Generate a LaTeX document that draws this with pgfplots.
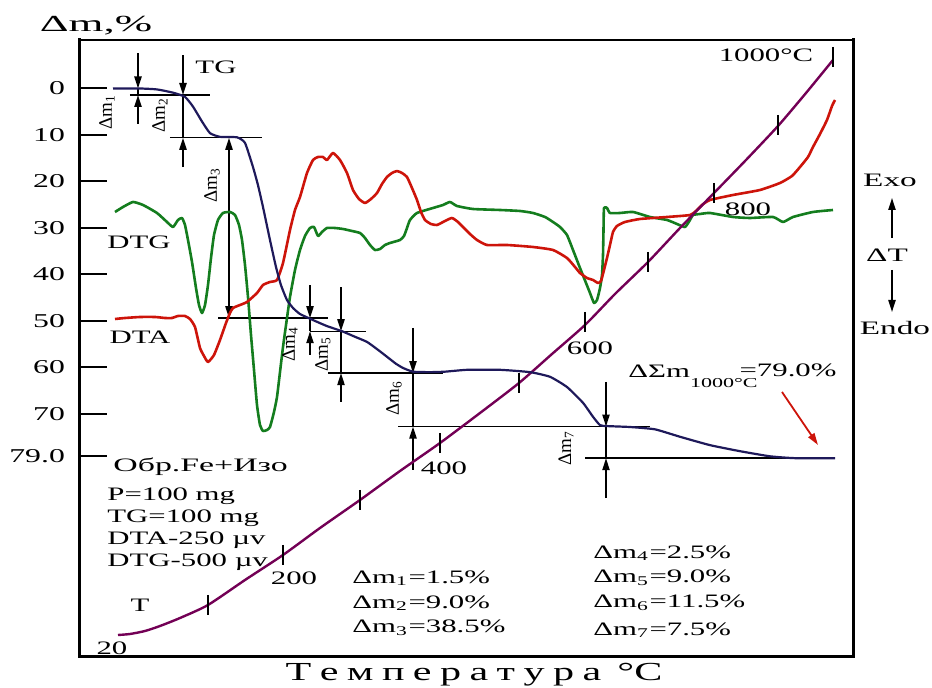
\documentclass[border=0pt]{standalone}
\usepackage{fontspec}
\setmainfont{Liberation Serif}
\usepackage{graphicx}
\usepackage{pgfplots}
\pgfplotsset{compat=1.18}
\usetikzlibrary{arrows.meta}
\definecolor{tgcol}{RGB}{30,25,90}
\definecolor{dtacol}{RGB}{205,20,10}
\definecolor{dtgcol}{RGB}{20,125,30}
\definecolor{tcol}{RGB}{115,0,85}
\newcommand{\sx}[1]{\scalebox{1.62}[1]{#1}}
\newcommand{\ls}{\hspace{2.6pt}}
\tikzset{
  arr/.style={line width=0.8pt, -{Triangle[length=6pt,width=3.6pt]}},
  lev/.style={line width=0.7pt},
}
\begin{document}
\begin{tikzpicture}[font=\fontsize{9.5}{11}\selectfont]
\pgfplotsset{
  base/.style={scale only axis, width=386.5pt, height=308.5pt, xmin=80, xmax=853,
    at={(0,0)}, anchor=south west, clip=false},
}
% ---------- TG axis (percent) ----------
\begin{axis}[base, ymin=-10.43, ymax=122.26, y dir=reverse,
  axis line style={draw=none}, xtick=\empty,
  ytick={0,10,20,30,40,50,60,70,79},
  yticklabels={\sx{0},\sx{10},\sx{20},\sx{30},\sx{40},\sx{50},\sx{60},\sx{70},\sx{79.0}},
  ytick pos=left, tick align=inside, major tick length=13.5pt,
  ytick style={line width=1pt, black},
  yticklabel style={anchor=east, xshift=-4pt, font=\fontsize{9.8}{11}\selectfont},
  /pgf/number format/assume math mode=true]
\draw[line width=1pt] (axis cs:80,-10.43) -- (axis cs:853,-10.43);
\draw[line width=1.5pt, line cap=rect] (axis cs:80,-10.43) -- (axis cs:80,122.26) -- (axis cs:853,122.26) -- (axis cs:853,-10.43);
% level lines
\draw[lev] (axis cs:130,1.4) -- (axis cs:210,1.4);
\draw[lev] (axis cs:170,10.6) -- (axis cs:262,10.6);
\draw[lev] (axis cs:218,49.4) -- (axis cs:328,49.4);
\draw[lev] (axis cs:310,52.2) -- (axis cs:366,52.2);
\draw[lev] (axis cs:328,61.2) -- (axis cs:443,61.2);
\draw[lev] (axis cs:398,72.7) -- (axis cs:650,72.7);
\draw[lev] (axis cs:585,79.5) -- (axis cs:835,79.5);
% arrows
\draw[arr] (axis cs:138,-7.6) -- (axis cs:138,0);
\draw[line width=0.8pt] (axis cs:138,0) -- (axis cs:138,1.4);
\draw[arr] (axis cs:138,7.6) -- (axis cs:138,1.4);
\draw[arr] (axis cs:183,-7.2) -- (axis cs:183,1.4);
\draw[line width=0.8pt] (axis cs:183,1.4) -- (axis cs:183,10.6);
\draw[arr] (axis cs:183,16.9) -- (axis cs:183,10.6);
\draw[line width=0.8pt, {Triangle[length=6pt,width=3.6pt]}-{Triangle[length=6pt,width=3.6pt]}] (axis cs:229,10.6) -- (axis cs:229,49.4);
\draw[arr] (axis cs:310,42.3) -- (axis cs:310,49.4);
\draw[line width=0.8pt] (axis cs:310,49.4) -- (axis cs:310,52.2);
\draw[arr] (axis cs:310,57.3) -- (axis cs:310,52.2);
\draw[arr] (axis cs:341,42.7) -- (axis cs:341,52.2);
\draw[line width=0.8pt] (axis cs:341,52.2) -- (axis cs:341,61.2);
\draw[arr] (axis cs:341,67.4) -- (axis cs:341,61.2);
\draw[arr] (axis cs:413,51.5) -- (axis cs:413,61.2);
\draw[line width=0.8pt] (axis cs:413,61.2) -- (axis cs:413,72.7);
\draw[arr] (axis cs:413,82) -- (axis cs:413,72.7);
\draw[arr] (axis cs:606,63.1) -- (axis cs:606,72.7);
\draw[line width=0.8pt] (axis cs:606,72.7) -- (axis cs:606,79.5);
\draw[arr] (axis cs:606,88.1) -- (axis cs:606,79.5);
\end{axis}
% ---------- signal axis (arbitrary units) ----------
\begin{axis}[base, ymin=40, ymax=657, y dir=reverse, hide axis]
% DTG
\addplot[dtgcol, line width=1.3pt, line join=round, smooth, tension=0.3] coordinates {
(115,212)(123,207)(133,202)(143,205)(157,213)(167,222)(173,227)(178,220)(182,218)(185,225)
(188,240)(192,262)(196,288)(199,305)(202,313)(205,305)(208,285)(211,258)(214,235)(218,220)
(223,213)(230,212)(235,215)(239,225)(242,240)(245,265)(248,297)(251,335)(254,370)(257,405)
(260,425)(263,431)(267,430)(270,427)(274,412)(277,397)(280,372)(283,347)(287,318)(290,297)
(295,270)(300,250)(305,236)(310,228)(314,227)(318,236)(322,232)(327,228)(335,228)(343,229)
(352,231)(360,233)(365,238)(370,245)(375,250)(380,249)(385,245)(390,243)(400,240)(404,236)
(407,228)(410,220)(417,213)(433,208)(443,205)(450,202)(457,206)(473,209)(500,210)(520,211)
(533,213)(545,217)(553,222)(560,227)(567,235)(573,250)(580,268)(586,283)(590,293)(594,303)
(597,300)(600,288)(602,275)(603,255)(603.5,230)(604,208)(607,208)(610,213)(620,213)(633,212)
(650,217)(667,220)(677,224)(685,227)(690,220)(693,215)(700,214)(710,213)(733,217)(750,218)
(773,217)(783,222)(793,217)(813,212)(833,210)};
% DTA
\addplot[dtacol, line width=1.3pt, line join=round, smooth, tension=0.3] coordinates {
(115,319)(125,318)(140,317)(155,317)(165,318)(172,318)(178,316)(185,316)(190,319)(195,327)
(200,348)(204,356)(208,362)(214,355)(220,340)(226,323)(230,313)(233,308)(240,305)(247,302)
(257,293)(263,285)(270,282)(277,280)(283,263)(290,230)(295,210)(300,197)(307,173)(313,160)
(318,157)(323,157)(327,160)(333,153)(340,160)(347,173)(353,190)(359,199)(365,203)(371,199)
(377,193)(382,184)(387,177)(392,173)(397,171)(402,173)(407,177)(412,188)(417,200)(421,212)
(425,220)(431,224)(437,225)(445,221)(452,218)(458,222)(463,227)(470,234)(477,240)(487,245)
(507,245)(533,247)(553,250)(567,258)(575,267)(580,273)(587,278)(593,280)(598,283)(601,281)
(604,270)(607,258)(610,245)(613,232)(617,226)(625,222)(640,219)(667,217)(690,215)(697,210)
(702,205)(710,200)(733,195)(760,190)(780,183)(792,176)(800,167)(808,157)(813,147)(820,134)
(827,120)(832,106)(835,100)};
% T
\addplot[tcol, line width=1.2pt, smooth, tension=0.4] coordinates {
(118,635)(130,634)(145,631)(160,626)(180,618)(208,605)(245,580)(283,555)(320,528)(360,500)
(400,471)(440,443)(480,413)(519,383)(552,354)(585,325)(615,294)(648,262)(680,228)(714,193)
(746,160)(778,126)(806,93)(833,60)};
\addplot[only marks, mark=|, mark size=5pt, mark options={line width=1pt, black}] coordinates {
(208,605)(283,555)(360,500)(440,443)(519,383)(585,322)(648,262)(714,193)(778,125)(833,57)};
% texts
\node[font=\fontsize{11.5}{13}\selectfont] at (axis cs:96,26) {\scalebox{1.95}[1]{Δm,\%}};
\node at (axis cs:216,67) {\sx{TG}};
\node at (axis cs:139,242) {\sx{DTG}};
\node at (axis cs:140,337) {\sx{DTA}};
\node[anchor=west, inner sep=0pt] at (axis cs:113,467) {\scalebox{1.78}[1]{Обр.Fe+Изо}};
\node[anchor=west, inner sep=0pt] at (axis cs:107,496) {\sx{P=100 mg}};
\node[anchor=west, inner sep=0pt] at (axis cs:107,518) {\sx{TG=100 mg}};
\node[anchor=west, inner sep=0pt] at (axis cs:107,540) {\sx{DTA-250 µv}};
\node[anchor=west, inner sep=0pt] at (axis cs:107,562) {\sx{DTG-500 µv}};
\node at (axis cs:140,605) {\sx{T}};
\node at (axis cs:112,648) {\sx{20}};
\node at (axis cs:294,578) {\sx{200}};
\node at (axis cs:444,468) {\sx{400}};
\node at (axis cs:590,348) {\sx{600}};
\node at (axis cs:748,209) {\sx{800}};
\node at (axis cs:766,55) {\sx{1000°C}};
\node[anchor=west, inner sep=0pt] at (axis cs:352,578) {\sx{Δm\textsubscript{1}=1.5\%}};
\node[anchor=west, inner sep=0pt] at (axis cs:352,603) {\sx{Δm\textsubscript{2}=9.0\%}};
\node[anchor=west, inner sep=0pt] at (axis cs:352,628) {\sx{Δm\textsubscript{3}=38.5\%}};
\node[anchor=west, inner sep=0pt] at (axis cs:593,553) {\sx{Δm\textsubscript{4}=2.5\%}};
\node[anchor=west, inner sep=0pt] at (axis cs:593,578) {\sx{Δm\textsubscript{5}=9.0\%}};
\node[anchor=west, inner sep=0pt] at (axis cs:593,603) {\sx{Δm\textsubscript{6}=11.5\%}};
\node[anchor=west, inner sep=0pt] at (axis cs:593,630) {\sx{Δm\textsubscript{7}=7.5\%}};
\node[anchor=base west, inner sep=0pt] at (axis cs:628,378) {\sx{ΔΣm}\raisebox{-5pt}{\sx{\fontsize{6.8}{8}\selectfont 1000°C}}\hspace{-9pt}\raisebox{0.5pt}{\sx{=79.0\%}}};
\draw[dtacol, line width=0.9pt, -{Triangle[length=6pt,width=3.6pt]}] (axis cs:782,392) -- (axis cs:818,445);
% rotated delta labels
\node[rotate=90] at (axis cs:107,112) {Δm\textsubscript{1}};
\node[rotate=90] at (axis cs:160,115) {Δm\textsubscript{2}};
\node[rotate=90] at (axis cs:212,185) {Δm\textsubscript{3}};
\node[rotate=90] at (axis cs:290,344) {Δm\textsubscript{4}};
\node[rotate=90] at (axis cs:323,354) {Δm\textsubscript{5}};
\node[rotate=90] at (axis cs:394,398) {Δm\textsubscript{6}};
\node[rotate=90] at (axis cs:566,448) {Δm\textsubscript{7}};
% right side
\node at (axis cs:890,180) {\scalebox{1.75}[1]{Exo}};
\node at (axis cs:887,255) {\scalebox{1.75}[1]{ΔT}};
\node at (axis cs:895,328) {\scalebox{1.75}[1]{Endo}};
\draw[line width=0.8pt, -{Triangle[length=6pt,width=3.6pt]}] (axis cs:892,238) -- (axis cs:892,198);
\draw[line width=0.8pt, -{Triangle[length=6pt,width=3.6pt]}] (axis cs:892,270) -- (axis cs:892,312);
% title
\node[font=\fontsize{13}{15}\selectfont] at (axis cs:474,675) {\sx{Т\ls е\ls м\ls п\ls е\ls р\ls а\ls т\ls у\ls р\ls а\hspace{5pt}°C}};
\end{axis}
% TG on top
\begin{axis}[base, ymin=-10.43, ymax=122.26, y dir=reverse, hide axis]
\addplot[tgcol, line width=1.1pt, line join=round, smooth, tension=0.3] coordinates {
(113,0)(140,0)(157,0.2)(173,0.9)(185,1.8)(193,3.9)(202,7.1)(210,9.6)(220,10.4)(237,10.5)
(245,11.7)(253,16.9)(258,20.8)(263,25.5)(270,32.6)(276,38.4)(281,42.3)(287,45.5)(293,47.2)(300,48.5)
(313,49.8)(327,51.1)(342,52.2)(355,53.4)(367,54.5)(378,56.2)(387,57.7)(396,59.2)(403,60.1)(413,60.9)
(430,61.0)(445,60.9)(467,60.5)(500,60.5)(530,61.0)(550,62.0)(567,64.2)(583,67.6)(593,70.6)(600,72.4)
(607,72.6)(630,72.8)(655,73.3)(680,74.9)(710,76.7)(740,78.0)(770,79.1)(795,79.5)(835,79.5)};
\end{axis}
\pgfresetboundingbox
\useasboundingbox (-40pt,-15.5pt) rectangle (426pt,328.5pt);
\end{tikzpicture}
\end{document}
